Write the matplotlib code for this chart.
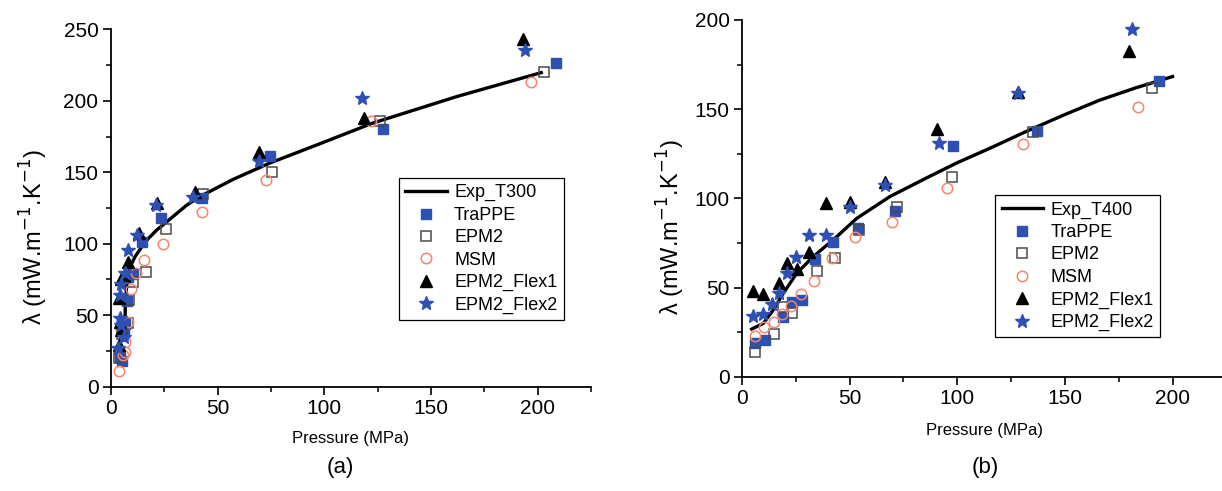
import numpy as np
import matplotlib
matplotlib.use("Agg")
import matplotlib.pyplot as plt
from matplotlib.ticker import MultipleLocator

plt.rcParams['font.family'] = ['Liberation Sans', 'DejaVu Sans']

# ---- panel (a), T = 300 K ----
exp_a_p = [6.4, 6.7, 7.5, 9.0, 11.3, 14.5, 17.6, 21.5, 25.3, 35.5, 41.7, 57.2, 74.2, 98.5, 122.5, 162.2, 201.7]
exp_a_l = [32.7, 56, 74.7, 84, 91, 98, 103.8, 109.7, 114.3, 127, 133, 145, 156.3, 170.3, 184.3, 203, 219.7]

trappe_a_p = [4.3, 5.1, 5.9, 6.5, 7.5, 8.2, 10.5, 14.5, 23.5, 42.8, 74.7, 127.6, 208.4]
trappe_a_l = [21, 18, 37, 44, 60, 77, 79, 101.5, 118, 131.8, 161.4, 180.3, 226.7]

epm2_a_p = [3.6, 5.0, 7.9, 8.5, 10.1, 16.3, 26, 43.1, 75.3, 126.3, 203]
epm2_a_l = [20.3, 37, 44.4, 60.7, 73, 80, 110, 134.9, 150.5, 186, 220]

msm_a_p = [3.6, 5.4, 6.7, 6.7, 7.9, 9.5, 11.7, 15.5, 24.4, 42.8, 72.7, 122, 196.8]
msm_a_l = [11.2, 22.2, 24.5, 31.5, 45.5, 68.2, 79.8, 88.7, 99.9, 122, 144.6, 186, 213]

flex1_a_p = [3.6, 4.8, 4.3, 3.9, 4.7, 5.9, 8.2, 12.9, 21.6, 39.2, 69.2, 118.5, 193.3]
flex1_a_l = [29.2, 39.7, 45.5, 62.3, 75, 77.7, 87.5, 107.3, 128.8, 136.5, 164.5, 187.8, 243]

flex2_a_p = [3.3, 5.9, 4.8, 4.3, 4.3, 4.8, 6.7, 8.2, 12.4, 21.0, 38.4, 69.5, 117.7, 194]
flex2_a_l = [26.9, 35, 43, 47.8, 64.2, 71.9, 79.8, 95.7, 106.2, 127, 133, 157.7, 202, 235.6]

# ---- panel (b), T = 400 K ----
exp_b_p = [4.5, 9.9, 14.5, 19.2, 25.4, 33.1, 44, 53.3, 68.7, 85.8, 100, 115, 132, 150, 166, 183, 200]
exp_b_l = [26.7, 29.9, 37.4, 46.8, 58, 67.3, 78.5, 88.8, 101, 111.5, 120, 128, 137.5, 147, 155, 162, 168.3]

trappe_b_p = [6.0, 10.7, 18.9, 23.1, 27.7, 33.9, 42.4, 54, 71.1, 97.9, 136.9, 193.7]
trappe_b_l = [19.1, 20.6, 33.7, 42.1, 43, 66.2, 75.4, 83.2, 93.1, 129.4, 137.8, 166]

epm2_b_p = [6.0, 15.0, 19.2, 23.4, 34.7, 43.2, 54.5, 71.8, 97.4, 135, 190.3]
epm2_b_l = [14, 23.8, 39.3, 35.6, 59.3, 66.7, 82.3, 95.3, 112.2, 137.4, 161.7]

msm_b_p = [6.0, 10.4, 14.9, 18.7, 22.8, 27.4, 33.4, 41.7, 52.5, 69.8, 95.4, 130.4, 184]
msm_b_l = [23, 28, 30.5, 35.2, 39.7, 46.4, 53.9, 66.8, 78.2, 86.8, 105.7, 130.5, 151.1]

flex1_b_p = [5.3, 9.9, 17.2, 21, 25.4, 31.3, 39, 50.2, 66.4, 90.4, 128.3, 179.9]
flex1_b_l = [48.2, 46.4, 52.7, 63.6, 60.2, 70.1, 97.6, 98.2, 109.4, 138.8, 159.9, 182.8]

flex2_b_p = [5.3, 9.6, 13.8, 17.3, 21, 25.1, 31.3, 39, 50.2, 66.4, 91.6, 128.3, 181]
flex2_b_l = [34.2, 35.2, 40.8, 46.8, 58.3, 67.3, 79.5, 79.5, 95, 107.5, 131.2, 159, 194.8]

BLUE = '#2d50b4'
GREY = '#4a4a4a'
CORAL = '#f3866c'


def draw_panel(ax, exp, series, exp_label, ymax):
    ax.plot(exp[0], exp[1], color='black', lw=2.4, label=exp_label, zorder=2)
    (tp, tl), (ep, el), (mp, ml), (f1p, f1l), (f2p, f2l) = series
    ax.plot(tp, tl, 's', ls='none', ms=6.5, color=BLUE, mec=BLUE, label='TraPPE', zorder=3)
    ax.plot(ep, el, 's', ls='none', ms=6.5, mfc='none', mec=GREY, mew=1.1, label='EPM2', zorder=3)
    ax.plot(mp, ml, 'o', ls='none', ms=7.5, mfc='none', mec=CORAL, mew=1.1, label='MSM', zorder=3)
    ax.plot(f1p, f1l, '^', ls='none', ms=8.5, color='black', label='EPM2_Flex1', zorder=3)
    ax.plot(f2p, f2l, '*', ls='none', ms=10, color=BLUE, label='EPM2_Flex2', zorder=3)

    ax.set_xlim(0, 225)
    ax.set_ylim(0, ymax)
    ax.xaxis.set_major_locator(MultipleLocator(50))
    ax.xaxis.set_minor_locator(MultipleLocator(25))
    ax.yaxis.set_major_locator(MultipleLocator(50))
    ax.yaxis.set_minor_locator(MultipleLocator(25))
    for s in ('top', 'right'):
        ax.spines[s].set_visible(False)
    for s in ('left', 'bottom'):
        ax.spines[s].set_linewidth(1.3)
    ax.tick_params(which='major', direction='out', length=6, width=1.2, labelsize=15, pad=3)
    ax.tick_params(which='minor', direction='out', length=3.5, width=1.1)
    ax.set_xlabel('Pressure (MPa)', fontsize=12)
    ax.set_ylabel(r'λ (mW.m$^{-1}$.K$^{-1}$)', fontsize=17)


fig = plt.figure(figsize=(12.22, 4.91), dpi=100)
ax1 = fig.add_axes([111 / 1222, (491 - 386.7) / 491, 480 / 1222, 357.4 / 491])
ax2 = fig.add_axes([742 / 1222, (491 - 376.7) / 491, 484.4 / 1222, 356.7 / 491])

draw_panel(ax1, (exp_a_p, exp_a_l),
           [(trappe_a_p, trappe_a_l), (epm2_a_p, epm2_a_l), (msm_a_p, msm_a_l),
            (flex1_a_p, flex1_a_l), (flex2_a_p, flex2_a_l)], 'Exp_T300', 250)
draw_panel(ax2, (exp_b_p, exp_b_l),
           [(trappe_b_p, trappe_b_l), (epm2_b_p, epm2_b_l), (msm_b_p, msm_b_l),
            (flex1_b_p, flex1_b_l), (flex2_b_p, flex2_b_l)], 'Exp_T400', 200)

ax1.xaxis.set_label_coords(0.5, -0.125)
ax2.xaxis.set_label_coords(0.5, -0.13)
ax1.yaxis.set_label_coords(-0.127, 0.42)
ax2.yaxis.set_label_coords(-0.114, 0.42)

leg_kw = dict(loc='upper left', fontsize=13, frameon=True, fancybox=False,
              edgecolor='black', framealpha=1, borderaxespad=0, borderpad=0.35,
              labelspacing=0.3, handletextpad=0.4, handlelength=2.3)
l1 = ax1.legend(bbox_to_anchor=(0.6, 0.584), **leg_kw)
l2 = ax2.legend(bbox_to_anchor=(0.523, 0.509), **leg_kw)
for lg in (l1, l2):
    lg.get_frame().set_linewidth(0.9)

fig.text(340 / 1222, 1 - 468 / 491, '(a)', fontsize=16, ha='center', va='center')
fig.text(985 / 1222, 1 - 468 / 491, '(b)', fontsize=16, ha='center', va='center')

fig.savefig('out.png', dpi=100)
